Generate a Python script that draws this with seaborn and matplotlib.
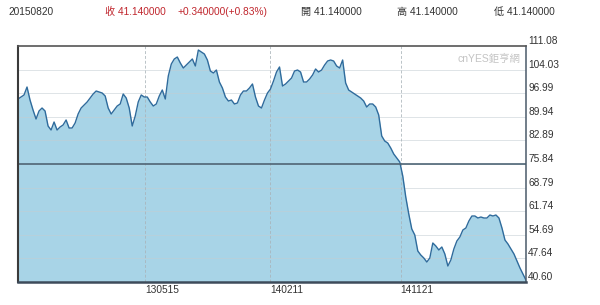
import matplotlib
matplotlib.use("Agg")
import matplotlib.pyplot as plt
import matplotlib.transforms as mtrans
import seaborn as sns
import pandas as pd

# ---- data ----
start_date = "2012-08-12"
end_date = "2015-08-20"
prices = [
    95.25, 95.85, 96.45, 98.83, 94.95, 91.97, 89.28, 91.67, 92.56, 91.67,
    87.19, 85.99, 88.38, 85.99, 86.89, 87.49, 88.98, 86.59, 86.59, 88.08,
    90.77, 92.56, 93.46, 94.36, 95.55, 96.74, 97.64, 97.34, 97.04, 96.15,
    92.56, 90.77, 91.97, 93.16, 93.76, 96.74, 95.55, 92.56, 87.19, 90.17,
    94.36, 96.45, 95.85, 95.85, 94.36, 93.16, 93.76, 96.15, 97.94, 95.25,
    102.12, 105.70, 107.20, 107.79, 106.00, 104.51, 105.40, 106.30, 107.20, 105.11,
    109.88, 109.29, 108.69, 106.90, 103.61, 103.02, 103.91, 100.33, 98.54, 95.85,
    94.65, 94.95, 93.76, 94.06, 96.45, 97.64, 97.64, 98.54, 99.73, 95.85,
    93.16, 92.56, 94.95, 97.04, 98.24, 100.63, 103.31, 104.81, 99.13, 99.73,
    100.63, 101.52, 103.61, 103.91, 103.31, 100.33, 100.33, 101.22, 102.42, 104.21,
    103.31, 103.91, 105.40, 106.60, 106.90, 106.60, 105.11, 104.51, 106.90, 100.03,
    97.94, 97.34, 96.74, 96.15, 95.55, 94.65, 92.86, 93.76, 93.76, 92.86,
    90.47, 84.20, 82.71, 82.11, 80.62, 78.83, 77.63, 76.44, 72.26, 65.98,
    60.91, 56.43, 54.64, 49.86, 48.66, 47.77, 46.57, 47.77, 52.25, 51.35,
    50.16, 51.05, 48.96, 45.38, 47.17, 50.46, 52.84, 54.04, 56.13, 56.73,
    58.82, 60.31, 60.31, 59.71, 60.01, 59.71, 59.71, 60.61, 60.31, 60.61,
    59.71, 56.73, 53.14, 51.95, 50.46, 48.96, 46.87, 44.78, 42.99, 41.14,
]
y_ticks = [40.60, 47.64, 54.69, 61.74, 68.79, 75.84, 82.89, 89.94, 96.99, 104.03, 111.08]
y_tick_labels = ["40.60", "47.64", "54.69", "61.74", "68.79", "75.84",
                 "82.89", "89.94", "96.99", "104.03", "111.08"]
x_tick_dates = ["2013-05-15", "2014-02-11", "2014-11-21"]
x_tick_labels = ["130515", "140211", "141121"]

header_date = "20150820"
header_close = "收 41.140000"
header_change = "+0.340000(+0.83%)"
header_open = "開 41.140000"
header_high = "高 41.140000"
header_low = "低 41.140000"
watermark = "cnYES鉅亨網"

dates = pd.date_range(start_date, end_date, periods=len(prices))
df = pd.DataFrame({"date": dates, "price": prices})

# ---- style ----
sns.set_style("white")
fam = ["Liberation Sans", "Noto Sans CJK TC", "DejaVu Sans"]
plt.rcParams["font.family"] = fam

fig = plt.figure(figsize=(6.0, 3.05), dpi=100)
ax = fig.add_axes([18 / 600, 23 / 305, 508 / 600, 236 / 305])

fill_col = "#a8d4e7"
line_col = "#2f6b9c"

ax.fill_between(df["date"], df["price"], y_ticks[0], color=fill_col, zorder=1, linewidth=0)
sns.lineplot(data=df, x="date", y="price", ax=ax, color=line_col, linewidth=1.0, zorder=3)

# grid lines
for v in y_ticks[1:-1]:
    ax.axhline(v, color="#c4cdd2", lw=0.7, alpha=0.55, zorder=2)
for d in x_tick_dates:
    ax.axvline(pd.Timestamp(d), color="#a9b3b9", lw=0.7, ls=(0, (3, 2)), alpha=0.8, zorder=2)

# mid line
mid = (y_ticks[0] + y_ticks[-1]) / 2
ax.axhline(mid, color="#4e6576", lw=1.2, zorder=4)

ax.set_xlim(dates[0], dates[-1])
ax.set_ylim(y_ticks[0], y_ticks[-1])
ax.set_xlabel("")
ax.set_ylabel("")

# y ticks on right
ax.yaxis.tick_right()
ax.set_yticks(y_ticks)
ax.set_yticklabels(y_tick_labels)
ax.tick_params(axis="y", length=0, pad=1.5, labelsize=7.3, labelcolor="#333333")
off = mtrans.ScaledTranslation(0, 5 / 100, fig.dpi_scale_trans)
for lab in ax.get_yticklabels():
    lab.set_transform(lab.get_transform() + off)
    lab.set_va("center")

# x ticks
ax.set_xticks([pd.Timestamp(d) for d in x_tick_dates])
ax.set_xticklabels(x_tick_labels)
ax.tick_params(axis="x", length=0, pad=2, labelsize=7.3, labelcolor="#333333")
for lab in ax.get_xticklabels():
    lab.set_ha("left")

# spines
for side, c, w in [("left", "#3a3a3a", 1.5), ("bottom", "#3d4b5a", 1.8),
                   ("top", "#555555", 1.2), ("right", "#4a5a6a", 1.1)]:
    ax.spines[side].set_visible(True)
    ax.spines[side].set_color(c)
    ax.spines[side].set_linewidth(w)
    ax.spines[side].set_zorder(6)

# watermark
ax.text(0.988, 0.968, watermark, transform=ax.transAxes, ha="right", va="top",
        fontsize=7.5, color="#c4c4c4", family=fam)

# header
hy = 1 - 12 / 305
fig.text(8 / 600, hy, header_date, ha="left", va="center", fontsize=7.3, color="#333333", family=fam)
fig.text(105 / 600, hy, header_close, ha="left", va="center", fontsize=7.3, color="#c0262d", family=fam)
fig.text(177 / 600, hy, header_change, ha="left", va="center", fontsize=7.3, color="#c0262d", family=fam)
fig.text(301 / 600, hy, header_open, ha="left", va="center", fontsize=7.3, color="#333333", family=fam)
fig.text(397 / 600, hy, header_high, ha="left", va="center", fontsize=7.3, color="#333333", family=fam)
fig.text(494 / 600, hy, header_low, ha="left", va="center", fontsize=7.3, color="#333333", family=fam)

fig.savefig("out.png", dpi=100)
